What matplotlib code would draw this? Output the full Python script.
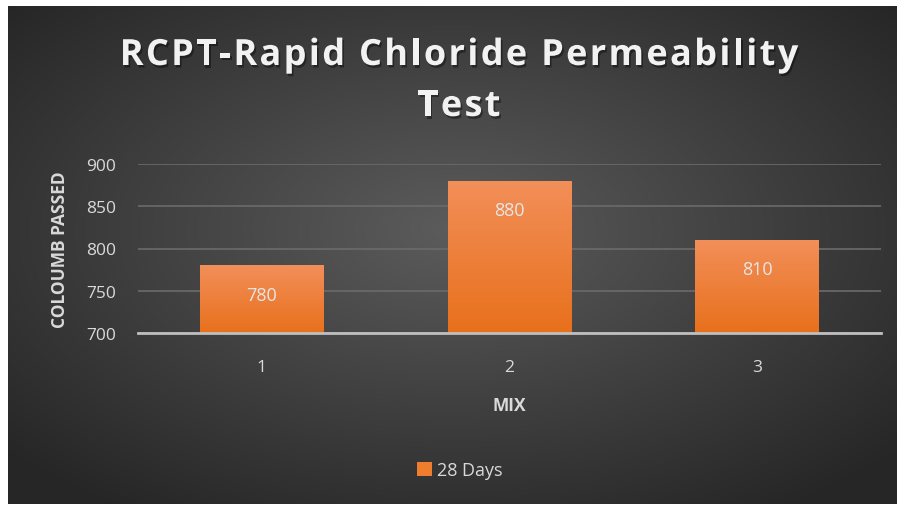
import numpy as np
import matplotlib.pyplot as plt
import matplotlib.patheffects as pe

# data
mixes = ['1', '2', '3']
coulomb = [780, 880, 810]
series_name = '28 Days'
yticks = [700, 750, 800, 850, 900]
title_lines = ['RCPT-Rapid Chloride Permeability', 'Test']

W, H = 897, 506
fig = plt.figure(figsize=(W / 100, H / 100), dpi=100, facecolor='white')
plt.rcParams['font.family'] = ['Open Sans', 'DejaVu Sans']

# dark radial background
bg = fig.add_axes([8 / W, 1 / H, 888 / W, 498 / H])
yy, xx = np.mgrid[-1:1:300j, -1:1:500j]
r = np.sqrt(xx ** 2 + (yy + 0.1) ** 2)
r = np.clip(r / 1.35, 0, 1)
shade = 0.36 - 0.21 * r
bg.imshow(np.dstack([shade, shade, shade]), aspect='auto', extent=[0, 1, 0, 1])
bg.set_axis_off()

ax = fig.add_axes([138 / W, (H - 334) / H, (881 - 138) / W, (334 - 165) / H])
ax.patch.set_alpha(0)
x = np.arange(len(mixes))
bars = ax.bar(x, [v - 700 for v in coulomb], bottom=700, width=0.5,
              color='#ef7d2e', zorder=3, label=series_name)

# vertical gradient inside each bar
grad = np.linspace(0, 1, 100).reshape(-1, 1)
top_c = np.array([0.95, 0.56, 0.35])
bot_c = np.array([0.91, 0.44, 0.11])
img = top_c * (1 - grad[..., None]) + bot_c * grad[..., None]
for b, v in zip(bars, coulomb):
    bx, bw = b.get_x(), b.get_width()
    im = ax.imshow(img, aspect='auto', extent=[bx, bx + bw, 700, v],
                   zorder=4, origin='upper')
    im.set_clip_path(b)
    ax.annotate(str(v), (bx + bw / 2, v), xytext=(0, -21), textcoords='offset points',
                ha='center', va='center', color='#e6e6e6', fontsize=13, zorder=5)

ax.set_xlim(-0.5, 2.5)
ax.set_ylim(700, 900)
ax.set_yticks(yticks)
ax.set_xticks(x)
ax.set_xticklabels(mixes)
ax.grid(axis='y', color='#6b6b6b', linewidth=1.2, zorder=0)
for s in ['top', 'right', 'left']:
    ax.spines[s].set_visible(False)
ax.spines['bottom'].set_color('#bfbfbf')
ax.spines['bottom'].set_linewidth(2)
ax.spines['bottom'].set_zorder(6)
ax.tick_params(length=0, colors='#d9d9d9', labelsize=12.5)
ax.tick_params(axis='y', pad=16)
ax.tick_params(axis='x', pad=19)
ax.set_xlabel('MIX', color='#d9d9d9', fontsize=12.5, fontweight='bold', labelpad=15)
ax.set_ylabel('COLOUMB PASSED', color='#d9d9d9', fontsize=12.5, fontweight='bold', labelpad=12)

# title with extra letter spacing, one glyph at a time
renderer = fig.canvas.get_renderer()
shadow = [pe.withSimplePatchShadow(offset=(1.2, -1.8), shadow_rgbFace='black', alpha=0.4)]
track = 2.3
for line, yc in zip(title_lines, [57, 108]):
    widths = []
    for ch in line:
        t = fig.text(0, 0, ch, fontsize=26, fontweight='bold')
        w = t.get_window_extent(renderer).width if ch != ' ' else None
        if ch == ' ':
            t.set_text('a a')
            w3 = t.get_window_extent(renderer).width
            t.set_text('aa')
            w = w3 - t.get_window_extent(renderer).width
        widths.append(w)
        t.remove()
    total = sum(widths) + track * (len(line) - 1)
    xp = 459 - total / 2
    for ch, w in zip(line, widths):
        if ch != ' ':
            fig.text(xp / W, 1 - yc / H, ch, ha='left', va='center', color='#f2f2f2',
                     fontsize=26, fontweight='bold', path_effects=shadow)
        xp += w + track

fig.legend(handles=[bars[0]], labels=[series_name], loc='center',
           bbox_to_anchor=(460 / W, 1 - 471 / H), frameon=False,
           fontsize=13, handlelength=0.8, handleheight=0.8, handletextpad=0.3,
           labelcolor='#d9d9d9')

fig.savefig('out.png', dpi=100, facecolor='white')
